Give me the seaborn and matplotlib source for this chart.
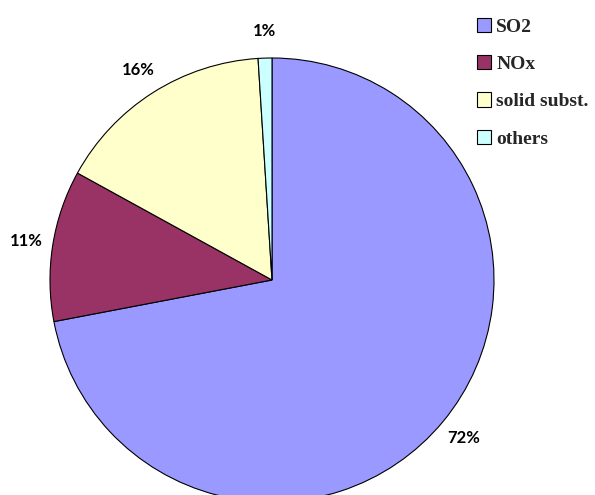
import matplotlib
matplotlib.use("Agg")
import matplotlib.pyplot as plt
import seaborn as sns

sns.set_theme(style="white")

# Emission shares (%)
categories = ["SO2", "NOx", "solid subst.", "others"]
shares = [72, 11, 16, 1]
colors = ["#9999FF", "#993366", "#FFFFCC", "#CCFFFF"]

fig = plt.figure(figsize=(5.95, 4.95), dpi=100)
ax = fig.add_axes([0, 0, 1, 1])

# pie centre at pixel (272, 280), radius 222 px
r = 222.0
cx, cy = 272.0, 280.0

wedges, _, autotexts = ax.pie(
    shares,
    colors=colors,
    startangle=90,
    counterclock=False,
    autopct="%1.0f%%",
    pctdistance=1.12,
    wedgeprops=dict(edgecolor="black", linewidth=0.8),
    textprops=dict(family="Lato", fontweight="bold", fontsize=12, color="black"),
    frame=False,
)
ax.set_xlim(-cx / r, (595 - cx) / r)
ax.set_ylim(-(495 - cy) / r, cy / r)
ax.set_aspect("auto")
ax.axis("off")

leg = fig.legend(
    wedges,
    categories,
    loc="upper left",
    bbox_to_anchor=(467 / 595, 1 - 8 / 495),
    frameon=False,
    handlelength=0.75,
    handleheight=0.75,
    handletextpad=0.25,
    labelspacing=1.0,
    borderpad=0,
    prop=dict(family="Liberation Serif", weight="bold", size=14),
)
for h in leg.legend_handles:
    h.set_linewidth(0.8)

fig.savefig("out.png", dpi=100)
